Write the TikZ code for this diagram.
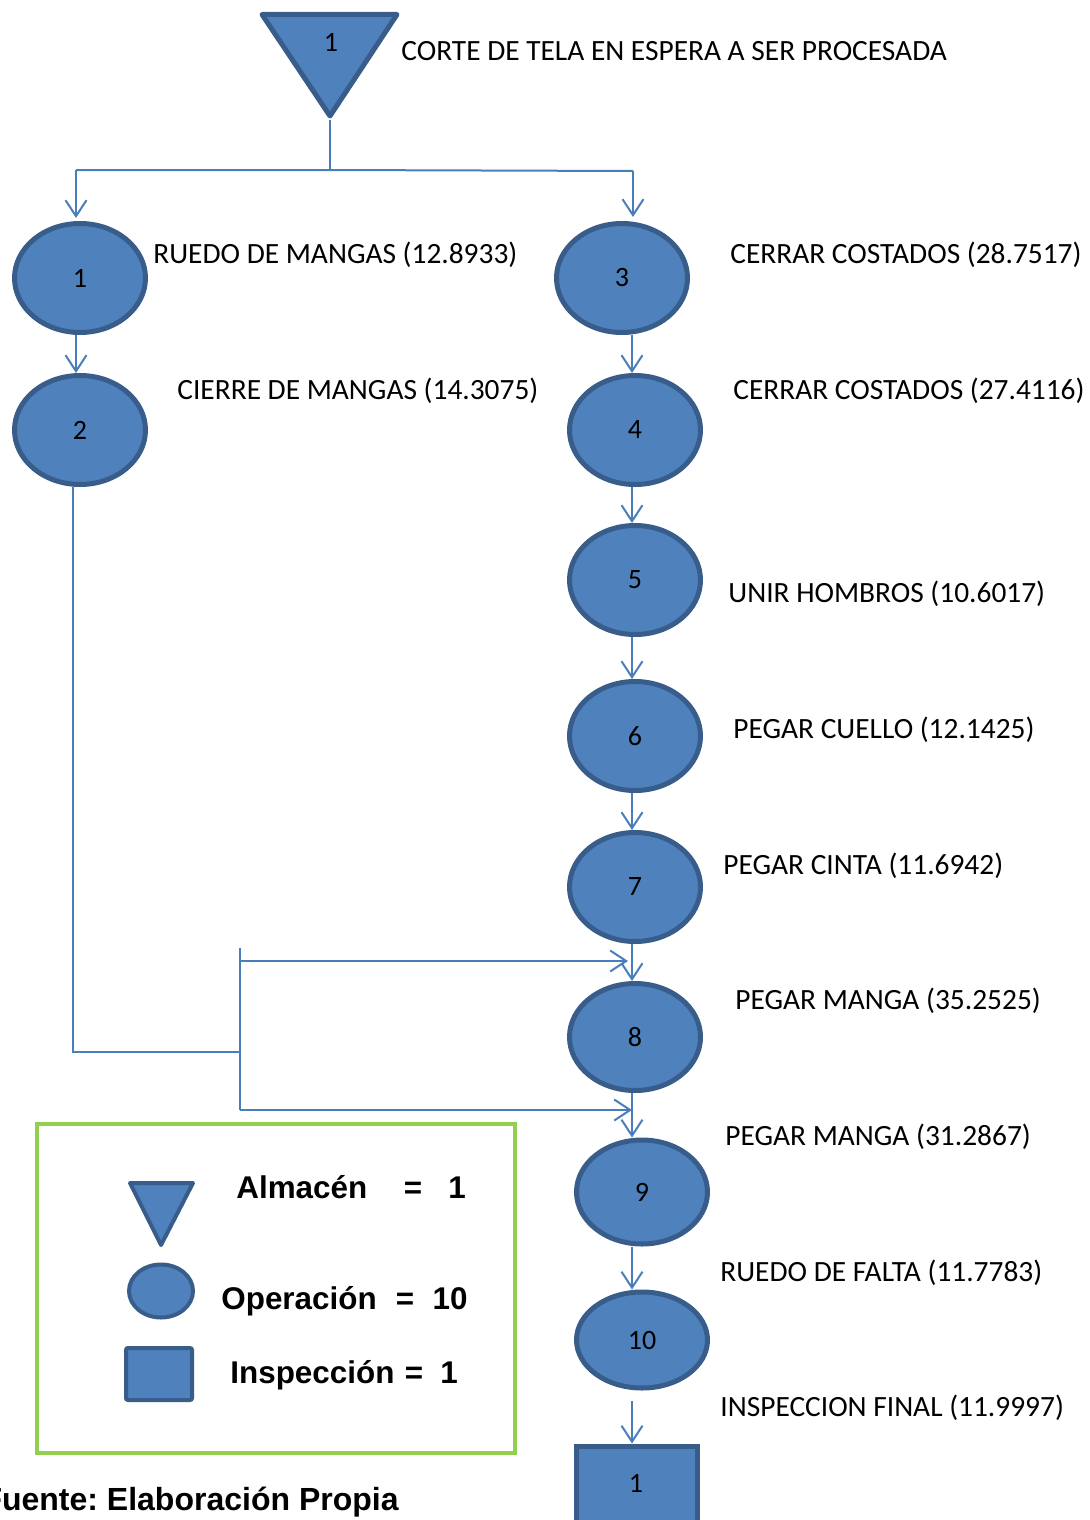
\documentclass[tikz,border=0pt]{standalone}
\usepackage{fontspec}
\setmainfont{Carlito}
\newfontfamily\legendfont{Liberation Sans}
\usetikzlibrary{shapes.geometric,arrows.meta}
\definecolor{opfill}{HTML}{4F81BD}
\definecolor{opedge}{HTML}{385D8A}
\definecolor{flow}{HTML}{4A7EBB}
\definecolor{legendgreen}{HTML}{92D050}
\frenchspacing

\begin{document}
\begin{tikzpicture}[x=0.5pt,y=-0.5pt,
  op/.style={ellipse, draw=opedge, fill=opfill, line width=2.5pt,
    minimum width=65.5pt, minimum height=54.5pt, inner sep=0pt,
    font=\fontsize{14}{16}\selectfont},
  flowline/.style={draw=flow, line width=1pt},
  arr/.style={flowline, -{Straight Barb[length=8pt,width=10.5pt,line width=1pt]}},
  lbl/.style={anchor=west, inner sep=0pt, font=\fontsize{14.7}{17}\selectfont},
  num/.style={inner sep=0pt, font=\fontsize{14}{16}\selectfont},
  leg/.style={inner sep=0pt, anchor=base, font=\legendfont\bfseries\fontsize{15.7}{19}\selectfont}]

\useasboundingbox (0,0) rectangle (1089,1520);

% storage triangle at the start
\filldraw[fill=opfill, draw=opedge, line width=2.5pt, line join=round]
  (262,14.5) -- (397,14.5) -- (330,116) -- cycle;
\node[num] (t1) at (331,42) {1};
\coordinate (t1apex) at (330,120);
\node[lbl] (lt1) at (401,51) {CORTE DE TELA EN ESPERA A SER PROCESADA};

% operations
\node[op] (e1) at (80,278) {1};
\node[op] (e2) at (80,430) {2};
\node[op] (e3) at (622,278) {3};
\node[op] (e4) at (635,430) {4};
\node[op] (e5) at (635,580) {5};
\node[op] (e6) at (635,736) {6};
\node[op] (e7) at (635,887) {7};
\node[op, minimum height=53.5pt] (e8) at (635,1037) {8};
\node[op, minimum height=52pt] (e9) at (642,1192) {9};
\node[op, minimum height=48pt] (e10) at (642,1340) {10};

% final inspection
\node[rectangle, draw=opedge, fill=opfill, line width=2.5pt, minimum width=60.5pt,
  minimum height=44pt, inner sep=0pt] (insp) at (637,1490) {};
\node[num] (inspnum) at (636,1483) {1};

% operation labels
\node[lbl] (l1) at (153,255) {RUEDO DE MANGAS (12.8933)};
\node[lbl] (l2) at (177,391) {CIERRE DE MANGAS (14.3075)};
\node[lbl] (l3) at (730,255) {CERRAR COSTADOS (28.7517)};
\node[lbl] (l4) at (733,391) {CERRAR COSTADOS (27.4116)};
\node[lbl] (l5) at (728,594) {UNIR HOMBROS (10.6017)};
\node[lbl] (l6) at (733,730) {PEGAR CUELLO (12.1425)};
\node[lbl] (l7) at (723,866) {PEGAR CINTA (11.6942)};
\node[lbl] (l8) at (735,1001) {PEGAR MANGA (35.2525)};
\node[lbl] (l9) at (725,1137) {PEGAR MANGA (31.2867)};
\node[lbl] (l10) at (720,1273) {RUEDO DE FALTA (11.7783)};
\node[lbl] (l11) at (720,1408) {INSPECCION FINAL (11.9997)};

% split below the triangle
\coordinate (split) at (330,170);
\coordinate (splitL) at (76,170);
\coordinate (splitR) at (633,171);
\draw[flowline] (t1apex) -- (split);
\draw[flowline] (splitL) -- (split) -- (splitR);
\draw[arr] (splitL) -- (76,218);
\draw[arr] (splitR) -- (633,217);

% sleeve branch
\coordinate (c12) at (76,335);
\draw[arr] (c12) -- (c12 |- e2.north);

% body line, running a little left of the operation centres
\tikzset{bl/.style={xshift=-1.5pt}}
\draw[arr] ([bl]e4.north |- e3.south) -- ([bl]e4.north);
\draw[arr] ([bl]e4.south) -- ([bl]e5.north);
\draw[arr] ([bl]e5.south) -- ([bl]e6.north);
\draw[arr] ([bl]e6.south) -- ([bl]e7.north);
\draw[arr] ([bl]e7.south) -- ([bl]e8.north);
\draw[arr] ([bl]e8.south) -- ([bl]e8.south |- e9.north);
\draw[arr] ([bl]e8.south |- e9.south) -- ([bl]e8.south |- e10.north);
\draw[arr, shorten <=5pt] ([bl]e8.south |- e10.south) -- ([bl]e8.south |- insp.north);

% sleeves joining the body at operations 8 and 9
\coordinate (leave2) at (73,487);
\coordinate (joinL) at (73,1052);
\coordinate (joinM) at (240,1052);
\coordinate (barTop) at (240,948);
\coordinate (barBot) at (240,1110);
\coordinate (in8s) at (240,961);
\coordinate (in8e) at (628,961);
\coordinate (in9e) at (632,1110);
\draw[flowline] (leave2) -- (joinL) -- (joinM);
\draw[flowline] (barTop) -- (barBot);
\draw[arr] (in8s) -- (in8e);
\draw[arr] (barBot) -- (in9e);

% legend
\node[draw=legendgreen, line width=2pt, minimum width=239pt, minimum height=164.5pt,
  inner sep=0pt] (legbox) at (276,1288.5) {};
\filldraw[fill=opfill, draw=opedge, line width=2pt, line join=round]
  (130,1183) -- (193,1183) -- (161,1245) -- cycle;
\node[ellipse, draw=opedge, fill=opfill, line width=2pt, minimum width=32pt,
  minimum height=26.5pt, inner sep=0pt] (legop) at (161,1291) {};
\node[rectangle, draw=opedge, fill=opfill, line width=2pt, minimum width=33pt,
  minimum height=26pt, inner sep=0pt, rounded corners=1pt] (legin) at (159,1374) {};

\node[leg, anchor=base west] (la) at (236,1198.5) {Almacén};
\node[leg] (lae) at (413,1198.5) {=};
\node[leg] (lan) at (457,1198.5) {1};
\node[leg, anchor=base west] (lo) at (221,1309) {Operación};
\node[leg] (loe) at (405,1309) {=};
\node[leg] (lon) at (450,1309) {10};
\node[leg, anchor=base west] (li) at (230,1383) {Inspección};
\node[leg] (lie) at (414,1383) {=};
\node[leg] (lin) at (449,1383) {1};

\node[leg, anchor=base east, font=\legendfont\bfseries\fontsize{16}{19}\selectfont]
  (src) at (399,1510.5) {Fuente: Elaboración Propia};
\end{tikzpicture}
\end{document}
